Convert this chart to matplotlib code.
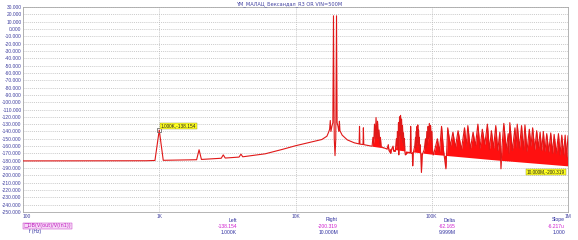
import numpy as np
import matplotlib
matplotlib.use("Agg")
import matplotlib.pyplot as plt

# ---------------- data ----------------
title = "YM_МАЛАЦ_Бександал_R3 OR VIN=500M"
y_ticks = list(range(30, -251, -10))
x_ticks = [100, 1000, 10000, 100000, 1000000]
x_tick_labels = ["100", "1K", "10K", "100K", "1M"]

trace_freq_hz = [
    100, 800, 930, 1000, 1070, 1880, 1960, 2040, 2850, 2950, 3050, 3850, 3980, 4100,
    6000, 8000, 10000, 13000, 15600, 17000, 17500, 17800, 18000, 18200, 18500, 18800,
    19000, 19250, 19500, 19750, 20000, 20200, 20500, 20800, 21000, 21200, 22000, 24000,
    27000, 29300, 29500, 29700, 31300, 31500, 31700, 36000,
    36500, 37000, 37500, 38000, 38500, 39000, 39500, 40000, 40500, 41000, 41500, 42000,
    42500, 47000, 48000, 48500, 50000, 50500, 52000, 52500, 54000,
    55000, 55500, 56000, 56500, 57000, 57300, 57600, 58000, 58500, 59000, 59500, 60000,
    60500, 61000, 61500, 62000, 62500, 63000, 63500, 64000, 66000, 69500, 70000, 70500,
    72000, 72500, 73000,
    75000, 76000, 76500, 77000, 77500, 78000, 78500, 79000, 79500, 80000, 80500, 81000,
    81500, 82000, 83000, 84000, 85000,
    88000, 90000, 91000, 92000, 93000, 94000, 95000, 96000, 97000, 98000, 99000, 100000,
    101000, 102000, 103000,
    110000, 114000, 118000, 122000, 127000, 131000, 137000, 143000, 149000, 156000,
    165000, 174000, 179000, 184000, 192000, 201000, 209000, 218000, 226000, 235000,
    245000, 256000, 265000, 274000, 284000, 295000, 305000, 316000, 322000, 327000,
    338000, 352000, 364000, 369000, 374000, 390000, 408000, 416000, 424000, 440000,
    456000, 470000, 483000, 500000, 520000, 535000, 550000, 570000, 589000, 606000,
    624000, 641000, 659000, 678000, 698000, 722000, 747000, 769000, 791000, 820000,
    851000, 875000, 900000, 926000, 953000, 976000, 1000000,
]
trace_db = [
    -180.2, -180.0, -179.6, -138.154, -179.4, -178.6, -165.0, -178.2, -176.6, -172.0, -176.3, -175.0, -171.0, -174.6,
    -170.5, -164.5, -159.5, -154.5, -151.0, -146.5, -141.0, -137.0, -125.0, -140.0, -133.0, -128.0,
    18.0, -150.0, -173.0, -150.0, 18.0, -128.0, -133.0, -140.0, -126.0, -139.0, -145.0, -151.5,
    -155.5, -157.0, -133.0, -157.3, -157.8, -135.0, -158.0, -160.0,
    -160.0, -148.0, -156.0, -130.0, -150.0, -121.0, -148.0, -126.0, -150.0, -138.0, -157.0, -148.0,
    -161.0, -164.0, -158.0, -166.0, -170.0, -165.0, -160.0, -167.0, -167.0,
    -150.0, -160.0, -140.0, -158.0, -128.0, -172.0, -150.0, -120.0, -145.0, -118.0, -143.0, -123.0,
    -150.0, -132.0, -155.0, -142.0, -160.0, -150.0, -168.0, -172.0, -169.0, -169.0, -133.0, -170.0,
    -170.0, -187.0, -170.0,
    -160.0, -148.0, -162.0, -140.0, -158.0, -133.0, -155.0, -131.0, -152.0, -138.0, -160.0, -148.0,
    -165.0, -158.0, -171.0, -196.0, -172.0,
    -165.0, -150.0, -162.0, -140.0, -158.0, -133.0, -150.0, -129.0, -148.0, -132.0, -152.0, -140.0,
    -162.0, -170.0, -172.0,
    -150.0, -168.0, -133.0, -166.0, -191.0, -135.0, -160.0, -141.0, -162.0, -139.0,
    -165.0, -135.0, -160.0, -132.0, -164.0, -141.0, -160.0, -130.0, -163.0, -137.0,
    -158.0, -130.0, -165.0, -139.0, -163.0, -132.0, -166.0, -141.0, -191.0, -163.0,
    -129.0, -165.0, -143.0, -170.0, -128.0, -166.0, -135.0, -162.0, -130.0, -163.0,
    -132.0, -165.0, -131.0, -167.0, -137.0, -160.0, -135.0, -165.0, -139.0, -163.0,
    -141.0, -166.0, -140.0, -167.0, -143.0, -168.0, -142.0, -170.0, -144.0, -170.0,
    -143.0, -172.0, -145.0, -172.0, -145.0, -175.0, -146.0,
]

# noise floor under the dense harmonic region (bottom of the red fill)
floor_freq_hz = [36000, 60000, 100000, 300000, 1000000]
floor_db = [-160.0, -166.0, -171.0, -179.0, -187.0]

cursor_left = (1000, -138.154)
readout_heads = ["Left", "Right", "Delta", "Slope"]
readout_values = ["-138.154", "-200.319", "-62.165", "-6.217u"]
readout_freqs = ["1.000K", "10.000M", "9.999M", "1.000"]

# ---------------- figure ----------------
W, H = 578, 240
fig = plt.figure(figsize=(W / 100, H / 100), dpi=100)
fig.patch.set_facecolor("white")


def px(x, y):
    return x / W, 1 - y / H


left, right, top, bottom = 23, 568, 7, 212
ax = fig.add_axes([left / W, 1 - bottom / H, (right - left) / W, (bottom - top) / H])
ax.set_xscale("log")
ax.set_xlim(100, 1e6)
ax.set_ylim(-250, 30)

f = np.array(trace_freq_hz, dtype=float)
d = np.array(trace_db, dtype=float)
ff = np.array(floor_freq_hz, dtype=float)
fd = np.array(floor_db, dtype=float)

mask = f >= 36000
base = np.interp(np.log10(f[mask]), np.log10(ff), fd)
ax.fill_between(f[mask], base, d[mask], color="#ff1010", lw=0, zorder=2)
ax.plot(f, d, color="#e01818", lw=0.8, zorder=3)

ax.plot([cursor_left[0]], [cursor_left[1]], marker="s", ms=3.2, mfc="none",
        mec="#707070", mew=0.6, zorder=4)

ax.set_yticks(y_ticks)
ax.set_yticklabels([f"{v:.3f}" for v in y_ticks])
ax.set_xticks(x_ticks)
ax.set_xticklabels(x_tick_labels)
ax.minorticks_off()
ax.tick_params(axis="both", length=0, labelsize=3.5, labelcolor="#4040a0", pad=1.0)
ax.tick_params(axis="x", pad=1.6)
for lab in ax.get_xticklabels() + ax.get_yticklabels():
    lab.set_fontfamily("Liberation Sans")
ax.get_xticklabels()[0].set_horizontalalignment("left")

ax.grid(True, which="major", color="#b8b8b8", lw=0.5, ls=(0, (1.5, 1.5)), zorder=0)
for s in ax.spines.values():
    s.set_color("#a8a8a8")
    s.set_linewidth(0.6)

fs = 3.6
fam = "Liberation Sans"
fig.text(*px(289, 4), title, ha="center", va="center", fontsize=fs, color="#4040a0",
         fontfamily=["DejaVu Sans"])

# cursor labels
fig.text(*px(161, 126), "1.000K,-138.154", ha="left", va="center", fontsize=3.4,
         color="#202020", fontfamily=fam,
         bbox=dict(boxstyle="square,pad=0.15", fc="#ffff20", ec="#909020", lw=0.3))
fig.text(*px(565, 172), "10.000M,-200.319", ha="right", va="center", fontsize=3.4,
         color="#202020", fontfamily=fam,
         bbox=dict(boxstyle="square,pad=0.15", fc="#ffff20", ec="#909020", lw=0.3))

# readout
fig.text(*px(24, 226), "\u25a1DB(V(out)/V(in1))", ha="left", va="center", fontsize=fs,
         color="#c020c0", fontfamily=["DejaVu Sans"],
         bbox=dict(boxstyle="square,pad=0.15", fc="#f6d8f6", ec="#c020c0", lw=0.3))
fig.text(*px(29, 232), "f (Hz)", ha="left", va="center", fontsize=fs, color="#3030a0",
         fontfamily=fam)
cols = [237, 338, 456, 565]
for x, h, v, q in zip(cols, readout_heads, readout_values, readout_freqs):
    fig.text(*px(x, 220), h, ha="right", va="center", fontsize=fs, color="#3030a0", fontfamily=fam)
    fig.text(*px(x, 226), v, ha="right", va="center", fontsize=fs, color="#d020d0", fontfamily=fam)
    fig.text(*px(x, 232), q, ha="right", va="center", fontsize=fs, color="#3030a0", fontfamily=fam)

fig.savefig("out.png", dpi=100)
